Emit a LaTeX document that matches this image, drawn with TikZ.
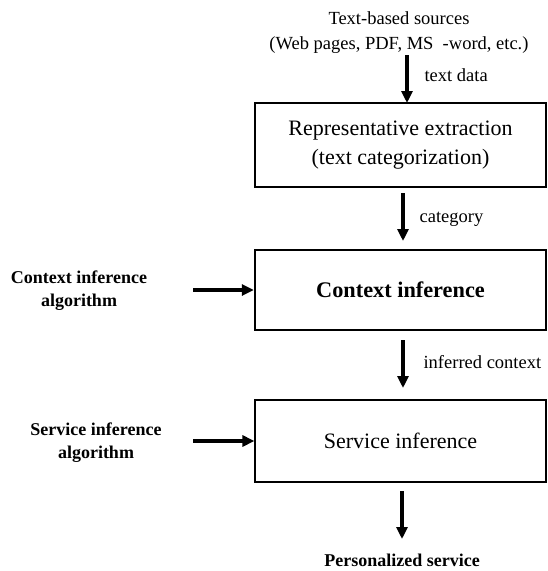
\documentclass[tikz,border=0pt]{standalone}
\usepackage{fontspec}
\setmainfont{Liberation Serif}
\usetikzlibrary{arrows.meta}
\begin{document}
\begin{tikzpicture}[x=1pt,y=-1pt,
  flow/.style={line width=3.2pt,-{Triangle[length=12pt,width=11pt]}},
  procbox/.style={draw,line width=1.2pt,minimum width=291pt,minimum height=84pt,align=center,font=\fontsize{22}{29}\selectfont,inner sep=0pt},
  lbl/.style={font=\fontsize{18.5}{25}\selectfont,align=center,inner sep=0pt},
  blbl/.style={font=\fontsize{18}{23}\selectfont\bfseries,align=center,inner sep=0pt}]
\useasboundingbox (0,0) rectangle (548,571);
\node[lbl] (src) at (399,33) {Text-based sources\\(Web pages, PDF, MS\ \ -word, etc.)};
\node[procbox] (rep) at (400.5,145) {Representative extraction\\(text categorization)};
\node[procbox,line width=2.4pt,font=\fontsize{22.3}{26}\selectfont\bfseries,minimum height=80pt] (ctx) at (400.5,290) {Context inference};
\node[procbox,minimum height=82pt] (srv) at (400.5,441) {Service inference};
\node[blbl] (calg) at (79,291) {Context inference\\algorithm};
\node[blbl] (salg) at (96,443) {Service inference\\algorithm};
\node[blbl] (pers) at (402,560) {Personalized service};
\coordinate (a1s) at (407,55);
\coordinate (a1e) at (407,103);
\draw[flow] (a1s) -- (a1e) node[lbl,midway,anchor=west,xshift=16pt,yshift=4pt] (l1) {text data};
\coordinate (a2s) at (403,193);
\coordinate (a2e) at (403,241);
\draw[flow] (a2s) -- (a2e) node[lbl,midway,anchor=west,xshift=15pt,yshift=-2pt] (l2) {category};
\coordinate (a3s) at (403,340);
\coordinate (a3e) at (403,388);
\draw[flow] (a3s) -- (a3e) node[lbl,midway,anchor=west,xshift=19pt,yshift=2pt] (l3) {inferred context};
\coordinate (a4s) at (402,491);
\coordinate (a4e) at (402,539);
\draw[flow] (a4s) -- (a4e);
\coordinate (cx) at (193,0);
\draw[flow] (ctx.west -| cx) -- (ctx.west);
\draw[flow] (srv.west -| cx) -- (srv.west);
\end{tikzpicture}
\end{document}
